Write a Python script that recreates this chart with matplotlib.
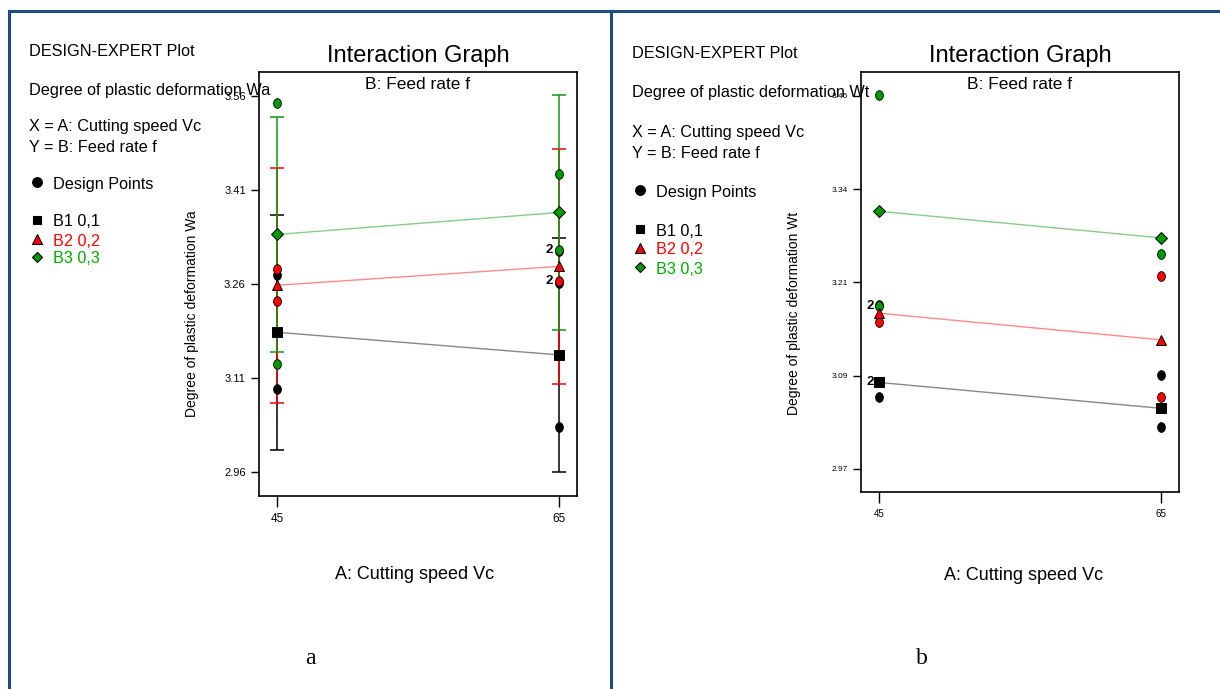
import matplotlib.pyplot as plt
import matplotlib.transforms as mtrans
from matplotlib.lines import Line2D
from matplotlib.path import Path

W, H = 1220, 689

speeds = [45, 65]

# panel a: Degree of plastic deformation Wa
wa_b1_mean = [3.183, 3.147]
wa_b2_mean = [3.258, 3.288]
wa_b3_mean = [3.339, 3.374]
wa_lsd = [0.187, 0.187]
wa_b1_x = [45, 45, 65, 65]
wa_b1_y = [3.274, 3.092, 3.032, 3.262]
wa_b2_x = [45, 45, 65, 65]
wa_b2_y = [3.284, 3.233, 3.312, 3.264]
wa_b3_x = [45, 45, 65, 65]
wa_b3_y = [3.548, 3.133, 3.436, 3.315]
wa_twos = [(65, 3.315), (65, 3.264)]
wa_yticks = [2.96, 3.11, 3.26, 3.41, 3.56]
wa_ylabels = ['2.96', '3.11', '3.26', '3.41', '3.56']

# panel b: Degree of plastic deformation Wt
wt_b1_mean = [3.081, 3.047]
wt_b2_mean = [3.172, 3.137]
wt_b3_mean = [3.306, 3.271]
wt_b1_x = [45, 65, 65]
wt_b1_y = [3.062, 3.091, 3.022]
wt_b2_x = [45, 45, 65, 65]
wt_b2_y = [3.161, 3.183, 3.221, 3.062]
wt_b3_x = [45, 45, 65]
wt_b3_y = [3.459, 3.181, 3.250]
wt_twos = [(45, 3.181), (45, 3.081)]
wt_yticks = [2.9675, 3.09, 3.2125, 3.335, 3.4575]
wt_ylabels = ['2.97', '3.09', '3.21', '3.34', '3.46']

plt.rcParams['font.family'] = ['Liberation Sans', 'DejaVu Sans']

BLUE = '#1f4a82'
RED = '#ff0000'
GREEN = '#009900'

# design points are drawn as slightly tall ovals
OVAL = Path.unit_circle().transformed(mtrans.Affine2D().scale(0.8, 1.0))


def fx(px):
    return px / W


def fy(py):
    return 1 - py / H


fig = plt.figure(figsize=(W / 100, H / 100), dpi=100)

# outer frame lines
for xs, ys in [([9, 1220], [11, 11]), ([9, 9], [11, 689]), ([611, 611], [11, 689])]:
    fig.add_artist(Line2D([fx(v) for v in xs], [fy(v) for v in ys],
                          color=BLUE, lw=2.2, transform=fig.transFigure))


def side_text(x0, ys, resp):
    fs = 11.7
    fig.text(fx(x0), fy(ys[0]), 'DESIGN-EXPERT Plot', fontsize=fs, va='center')
    fig.text(fx(x0), fy(ys[1]), 'Degree of plastic deformation ' + resp, fontsize=fs, va='center')
    fig.text(fx(x0), fy(ys[2]), 'X = A: Cutting speed Vc', fontsize=fs, va='center')
    fig.text(fx(x0), fy(ys[3]), 'Y = B: Feed rate f', fontsize=fs, va='center')
    items = [('o', 'black', 'black', 'Design Points', 7),
             ('s', 'black', 'black', 'B1 0,1', 6),
             ('^', RED, RED, 'B2 0,2', 7),
             ('D', GREEN, '#00aa00', 'B3 0,3', 5.5)]
    for (m, c, tc, lab, ms), y in zip(items, ys[4:]):
        fig.add_artist(Line2D([fx(x0 + 8)], [fy(y - 2)], marker=m, ms=ms, color=c,
                              mec='black', mew=0.8, transform=fig.transFigure))
        fig.text(fx(x0 + 24), fy(y), lab, fontsize=fs, va='center', color=tc)


side_text(29, [52, 90, 127, 147, 184, 222, 241, 259], 'Wa')
side_text(632, [54, 93, 133, 153, 192, 231, 250, 269], 'Wt')


def panel(rect, title_x, ylim, yticks, ylabels, resp, means, pts, twos, lsd,
          tick_fs, xtick_fs, ylab_pos, xlab_pos):
    ax = fig.add_axes(rect)
    ax.set_xlim(43.72, 66.3)
    ax.set_ylim(*ylim)
    ax.set_xticks(speeds)
    ax.set_yticks(yticks)
    ax.set_yticklabels(ylabels)
    ax.tick_params(axis='y', labelsize=tick_fs, direction='out', length=6, width=1)
    ax.tick_params(axis='x', labelsize=xtick_fs, direction='out', length=8, width=1, pad=4)
    for s in ax.spines.values():
        s.set_linewidth(1.2)

    line_cols = ['#888888', '#ff8a8a', '#88cc88']
    cols = ['black', RED, GREEN]
    bar_cols = ['black', RED, '#119911']
    marks = [('s', 6.5), ('^', 7.5), ('D', 6)]

    if lsd is not None:
        for m, bc in zip(means, bar_cols):
            ax.errorbar(speeds, m, yerr=lsd, fmt='none', ecolor=bc, elinewidth=1.1,
                        capsize=5, capthick=1.1, zorder=2)
    for m, lc in zip(means, line_cols):
        ax.plot(speeds, m, color=lc, lw=1, zorder=3)
    for (px, py), c in zip(pts, cols):
        ax.plot(px, py, marker=OVAL, ms=7, color=c, mec='black', mew=0.6, zorder=4, ls='none')
    for m, c, (mk, ms) in zip(means, cols, marks):
        ax.plot(speeds, m, mk, ms=ms, color=c, mec='black', mew=0.7, zorder=5, ls='none')
    for x, y in twos:
        ax.annotate('2', (x, y), xytext=(-4, 0), textcoords='offset points',
                    ha='right', va='center', fontsize=9.5, fontweight='bold')

    ax.set_ylabel('Degree of plastic deformation ' + resp, fontsize=10)
    ax.yaxis.set_label_coords(*ylab_pos)
    ax.set_xlabel('A: Cutting speed Vc', fontsize=13)
    ax.xaxis.set_label_coords(*xlab_pos)
    ax.xaxis.label.set_va('center')
    ax.text(0.5, 0.97, 'B: Feed rate f', transform=ax.transAxes, ha='center',
            va='center', fontsize=12.5)
    fig.text(fx(title_x), fy(56), 'Interaction Graph', ha='center', va='center', fontsize=17)
    return ax


panel([fx(259), fy(496), (577 - 259) / W, (496 - 72) / H], 418,
      (2.922, 3.598), wa_yticks, wa_ylabels, 'Wa',
      [wa_b1_mean, wa_b2_mean, wa_b3_mean],
      [(wa_b1_x, wa_b1_y), (wa_b2_x, wa_b2_y), (wa_b3_x, wa_b3_y)],
      wa_twos, wa_lsd, 8, 8.5, (-0.19, 0.43), (0.49, -0.186))

panel([fx(861), fy(492), (1179 - 861) / W, (492 - 72) / H], 1020,
      (2.937, 3.489), wt_yticks, wt_ylabels, 'Wt',
      [wt_b1_mean, wt_b2_mean, wt_b3_mean],
      [(wt_b1_x, wt_b1_y), (wt_b2_x, wt_b2_y), (wt_b3_x, wt_b3_y)],
      wt_twos, None, 6, 7, (-0.19, 0.425), (0.51, -0.198))

fig.text(fx(310), fy(658), 'a', ha='center', va='center', fontsize=17,
         family=['Liberation Serif', 'DejaVu Serif'])
fig.text(fx(922), fy(658), 'b', ha='center', va='center', fontsize=17,
         family=['Liberation Serif', 'DejaVu Serif'])

fig.savefig('out.png', dpi=100)
